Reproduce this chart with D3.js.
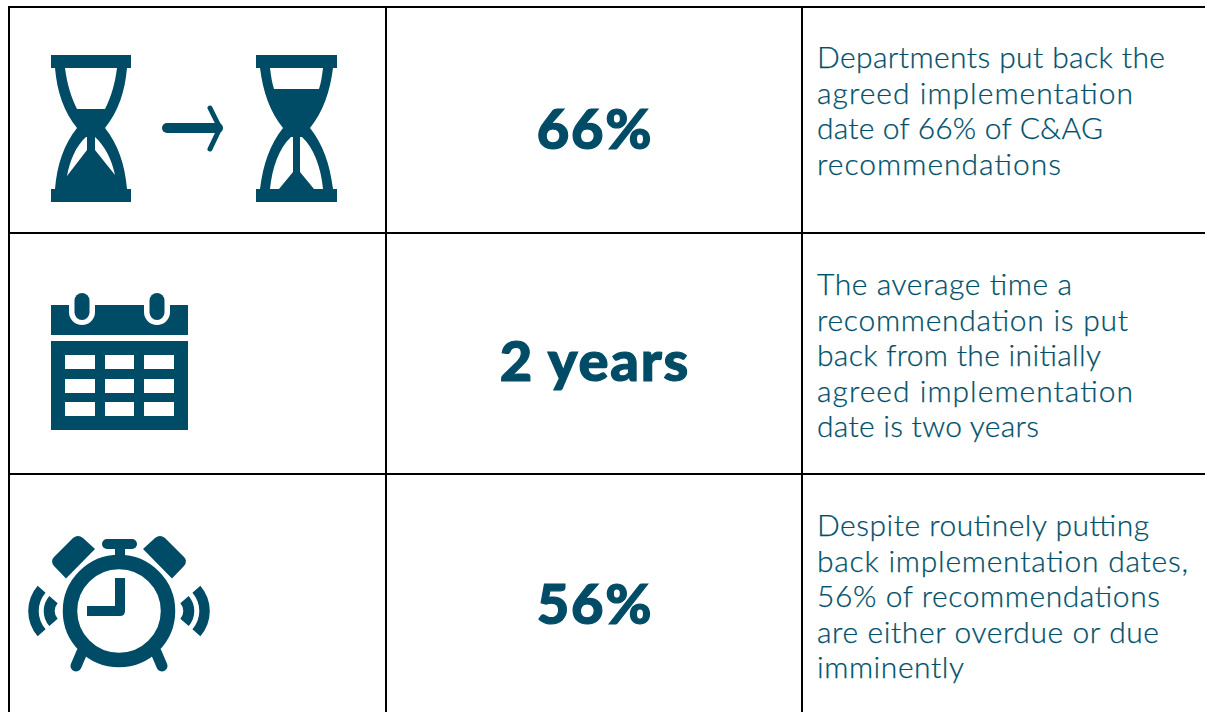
<!DOCTYPE html>
<meta charset="utf-8">
<script src="https://d3js.org/d3.v7.min.js"></script>
<style>
  html, body { margin: 0; padding: 0; background: #fff; overflow: hidden; }
</style>
<div id="my_dataviz"></div>
<script>

// table content
var rows = ["delay", "time", "overdue"];
var headlines = ["66%", "2 years", "56%"];
var note1 = ["Departments put back the", "agreed implementation", "date of 66% of C&AG", "recommendations"];
var note2 = ["The average time a", "recommendation is put", "back from the initially", "agreed implementation", "date is two years"];
var note3 = ["Despite routinely putting", "back implementation dates,", "56% of recommendations", "are either overdue or due", "imminently"];
var notes = [note1, note2, note3];

var width = 1205, height = 712;
var teal = "#004c66";

var svg = d3.select("#my_dataviz")
  .append("svg")
    .attr("width", width)
    .attr("height", height)
    .style("display", "block");

// grid lines
var gridX = [9, 386, 802];
var gridY = [7, 233, 474];

svg.selectAll(".vline").data(gridX).enter().append("line")
    .attr("x1", function(d) { return d; })
    .attr("x2", function(d) { return d; })
    .attr("y1", gridY[0] - 1)
    .attr("y2", height)
    .attr("stroke", "#000")
    .attr("stroke-width", 2);

svg.selectAll(".hline").data(gridY).enter().append("line")
    .attr("x1", gridX[0] - 1)
    .attr("x2", width)
    .attr("y1", function(d) { return d; })
    .attr("y2", function(d) { return d; })
    .attr("stroke", "#000")
    .attr("stroke-width", 2);

// text position per row
var headlineY = d3.scaleOrdinal().domain(rows).range([149, 381, 624]);
var noteY = d3.scaleOrdinal().domain(rows).range([68, 295, 536]);

// where each note line ends, the Lato glyphs run narrower than the original face
var noteEnds = [[1165, 1133, 1103, 1061], [1072, 1128, 1101, 1133, 1039], [1149, 1188, 1160, 1159, 964]];

svg.selectAll(".headline").data(rows).enter().append("text")
    .attr("x", 595)
    .attr("y", function(d) { return headlineY(d); })
    .attr("text-anchor", "middle")
    .attr("font-family", "Lato")
    .attr("font-weight", 900)
    .attr("font-size", 56)
    .attr("letter-spacing", 1.8)
    .attr("fill", teal)
    .attr("stroke", teal)
    .attr("stroke-width", 1.2)
    .text(function(d, i) { return headlines[i]; });

rows.forEach(function(r, i) {
  svg.append("g").selectAll("text").data(notes[i]).enter().append("text")
      .attr("x", 817)
      .attr("y", function(d, j) { return noteY(r) + j * 35.5; })
      .attr("font-family", "Lato")
      .attr("font-weight", 300)
      .attr("font-size", 30)
      .attr("textLength", function(d, j) { return noteEnds[i][j] - 817; })
      .attr("lengthAdjust", "spacing")
      .attr("fill", "#00506a")
      .attr("stroke", "#00506a")
      .attr("stroke-width", 0.25)
      .text(function(d) { return d; });
});

// hourglass, left: mostly empty top
var icons = svg.append("g").attr("fill", teal);

icons.append("path").attr("fill-rule", "evenodd").attr("d",
  "M51 55H131V68H127C125 92 118 112 105 128C118 144 125 165 127 189H131V202H51V189H55C57 165 64 144 77 128C64 112 57 92 55 68H51Z" +
  "M65 68C67 84 71 97 77 109H105C111 97 115 84 117 68Z" +
  "M86 137C76 146 70 160 67 176L87 150V137Z" +
  "M95 137V150L115 175C112 160 105 146 95 137Z");

// hourglass, right: fuller top
icons.append("path").attr("fill-rule", "evenodd").attr("d",
  "M256 55H337V68H333C330 92 323 112 310 128C323 144 330 165 333 189H337V202H256V189H260C263 165 270 144 283 128C270 112 263 92 260 68H256Z" +
  "M270 68C271 76 272 83 274 89H319C321 83 322 76 323 68Z" +
  "M291 137C279 148 272 168 270 189H279L293 172V137Z" +
  "M300 137V172L314 189H323C321 168 314 148 302 137Z");

// arrow
icons.append("line")
    .attr("x1", 167).attr("y1", 128).attr("x2", 218).attr("y2", 128)
    .attr("stroke", teal).attr("stroke-width", 10).attr("stroke-linecap", "round");
icons.append("path")
    .attr("d", "M210 108L220 128L210 149")
    .attr("fill", "none").attr("stroke", teal).attr("stroke-width", 5)
    .attr("stroke-linecap", "round").attr("stroke-linejoin", "round");

// calendar
icons.append("path").attr("d",
  "M51 305H69V312A13 13 0 0 0 95 312V305H144V312A13 13 0 0 0 170 312V305H188V335H51Z");
icons.selectAll(".ring").data([82, 157]).enter().append("rect")
    .attr("x", function(d) { return d - 7.5; })
    .attr("y", 293).attr("width", 15).attr("height", 27).attr("rx", 7.5);
icons.append("path").attr("fill-rule", "evenodd").attr("d",
  "M51 341H188V430H51Z" +
  "M65 355H95V369H65Z M105 355H134V369H105Z M144 355H174V369H144Z" +
  "M65 379H95V393H65Z M105 379H134V393H105Z M144 379H174V393H144Z" +
  "M65 402H95V416H65Z M105 402H134V416H105Z M144 402H174V416H144Z");

// alarm clock
icons.append("circle").attr("cx", 119).attr("cy", 611).attr("r", 49)
    .attr("fill", "none").attr("stroke", teal).attr("stroke-width", 14.5);
icons.append("path").attr("d", "M115 578H125V611Q125 616 120 616H87V606H115Z");
icons.append("rect").attr("x", 102).attr("y", 539).attr("width", 35).attr("height", 10).attr("rx", 5);
icons.append("rect").attr("x", 115).attr("y", 548).attr("width", 10).attr("height", 9);
icons.append("path").attr("d", "M95 549L66 578.5L54 566Q50 561 54 557L73 538Q78 534 83 538Z");
icons.append("path").attr("d", "M143 549L172 578.5L184 566Q188 561 184 557L165 538Q160 534 155 538Z");
icons.selectAll(".foot").data([[82, 652, 76, 666], [156, 652, 162, 666]]).enter().append("line")
    .attr("x1", function(d) { return d[0]; }).attr("y1", function(d) { return d[1]; })
    .attr("x2", function(d) { return d[2]; }).attr("y2", function(d) { return d[3]; })
    .attr("stroke", teal).attr("stroke-width", 11).attr("stroke-linecap", "round");

// sound waves either side of the clock
var waveRadii = [[12, 23], [28, 38.5]];
var spread = 41 * Math.PI / 180;
[[66.7, -Math.PI / 2], [171.3, Math.PI / 2]].forEach(function(side) {
  icons.append("g")
      .attr("transform", "translate(" + side[0] + ",611)")
    .selectAll("path").data(waveRadii).enter().append("path")
      .attr("d", function(d) {
        return d3.arc()({innerRadius: d[0], outerRadius: d[1],
          startAngle: side[1] - spread, endAngle: side[1] + spread});
      });
});

</script>
